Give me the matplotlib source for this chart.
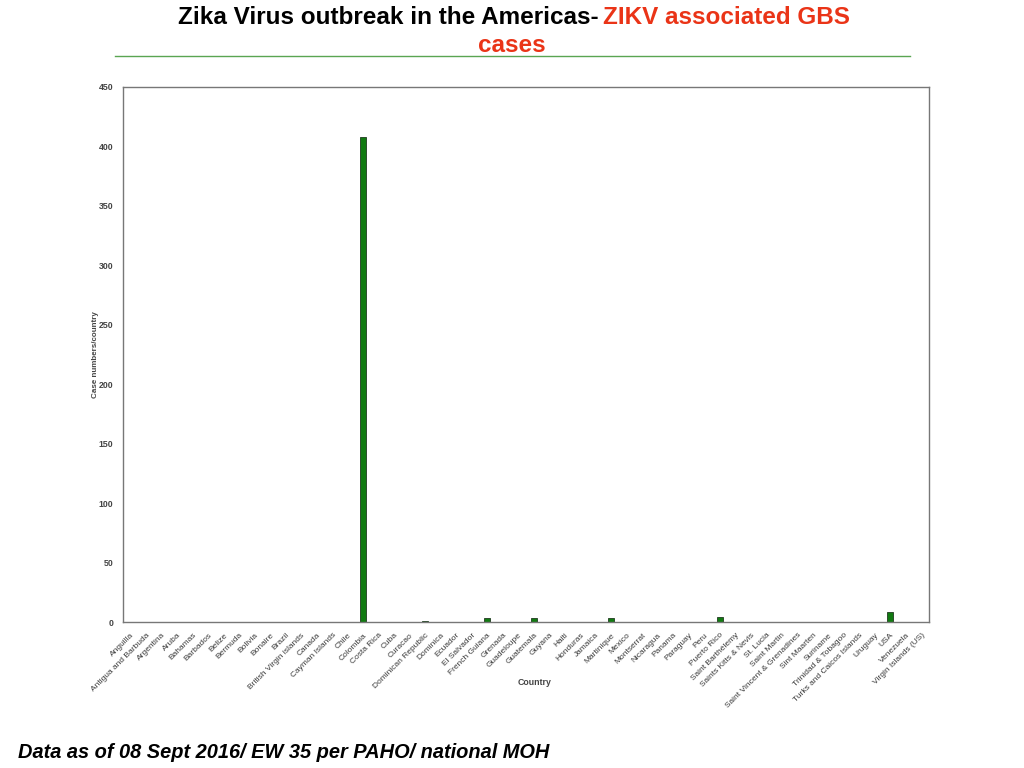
import matplotlib
matplotlib.use("Agg")
import matplotlib.pyplot as plt
import numpy as np

countries = ["Anguilla", "Antigua and Barbuda", "Argentina", "Aruba", "Bahamas", "Barbados",
             "Belize", "Bermuda", "Bolivia", "Bonaire", "Brazil", "British Virgin islands",
             "Canada", "Cayman Islands", "Chile", "Colombia", "Costa Rica", "Cuba", "Curacao",
             "Dominican Republic", "Dominica", "Ecuador", "El Salvador", "French Guiana",
             "Grenada", "Guadeloupe", "Guatemala", "Guyana", "Haiti", "Honduras", "Jamaica",
             "Martinique", "Mexico", "Montserrat", "Nicaragua", "Panama", "Paraguay", "Peru",
             "Puerto Rico", "Saint Barthélemy", "Saints Kitts & Nevis", "St. Lucia",
             "Saint Martin", "Saint Vincent & Grenadines", "Sint Maarten", "Suriname",
             "Trinidad & Tobagoo", "Turks and Caicos Islands", "Uruguay", "USA", "Venezuela",
             "Virgin Islands (US)"]
cases = [0, 0, 0, 0, 0, 0, 0, 0, 0, 0, 0, 0, 0, 0, 0, 408, 0, 0, 0, 1, 0, 0, 0, 3,
         0, 0, 3, 0, 0, 0, 0, 3, 0, 0, 0, 0, 0, 0, 4, 0, 0, 0, 0, 0, 0, 0, 0, 0, 0, 8, 0, 0]
yticks = [0, 50, 100, 150, 200, 250, 300, 350, 400, 450]

small = ["Liberation Sans", "DejaVu Sans"]

fig = plt.figure(figsize=(10.24, 7.68), dpi=100)
ax = fig.add_axes([123/1024, 1-622/768, (929-123)/1024, (622-87)/768])
x = np.arange(len(countries))
ax.bar(x, cases, width=0.4, color="#117a11", edgecolor="#1f3a1f", linewidth=0.6)
ax.set_xlim(-0.5, len(countries)-0.5)
ax.set_ylim(0, 450)
ax.set_yticks(yticks)
ax.set_yticklabels([str(v) for v in yticks], fontsize=6.3, color="#444444",
                   fontweight="bold", family=small)
ax.set_xticks(x)
ax.set_xticklabels(countries, rotation=45, ha="right", rotation_mode="anchor",
                   fontsize=6, color="#3a3a3a", family=small)
ax.tick_params(axis="both", length=0, pad=7)
for s in ax.spines.values():
    s.set_color("#777777")
    s.set_linewidth(1.0)
ax.set_ylabel("Case numbers/country", fontsize=5.8, color="#444444", fontweight="bold",
              family=small)
ax.yaxis.set_label_coords(-(123-99)/(929-123), 0.5)
ax.set_xlabel("Country", fontsize=6.3, color="#444444", fontweight="bold", family=small)
ax.xaxis.set_label_coords((535-123)/(929-123), -(678-622)/(622-87))

tfam = ["Liberation Sans Narrow", "Liberation Sans", "DejaVu Sans"]
fig.text(599/1024, 1-18/768, "Zika Virus outbreak in the Americas-", ha="right", va="center",
         fontsize=17.5, fontweight="bold", color="black", family=tfam)
fig.text(603/1024, 1-18/768, "ZIKV associated GBS", ha="left", va="center",
         fontsize=17.5, fontweight="bold", color="#ea3417", family=tfam)
fig.text(512/1024, 1-45/768, "cases", ha="center", va="center",
         fontsize=17.5, fontweight="bold", color="#ea3417", family=tfam)
fig.add_artist(plt.Line2D([115/1024, 910/1024], [1-56/768, 1-56/768], color="#5aa552", linewidth=1.0))

fig.text(18/1024, 1-752/768, "Data as of 08 Sept 2016/ EW 35 per PAHO/ national MOH", ha="left",
         va="center", fontsize=14.4, fontweight="bold", fontstyle="italic", color="black",
         family=small)

fig.savefig("out.png", dpi=100)
